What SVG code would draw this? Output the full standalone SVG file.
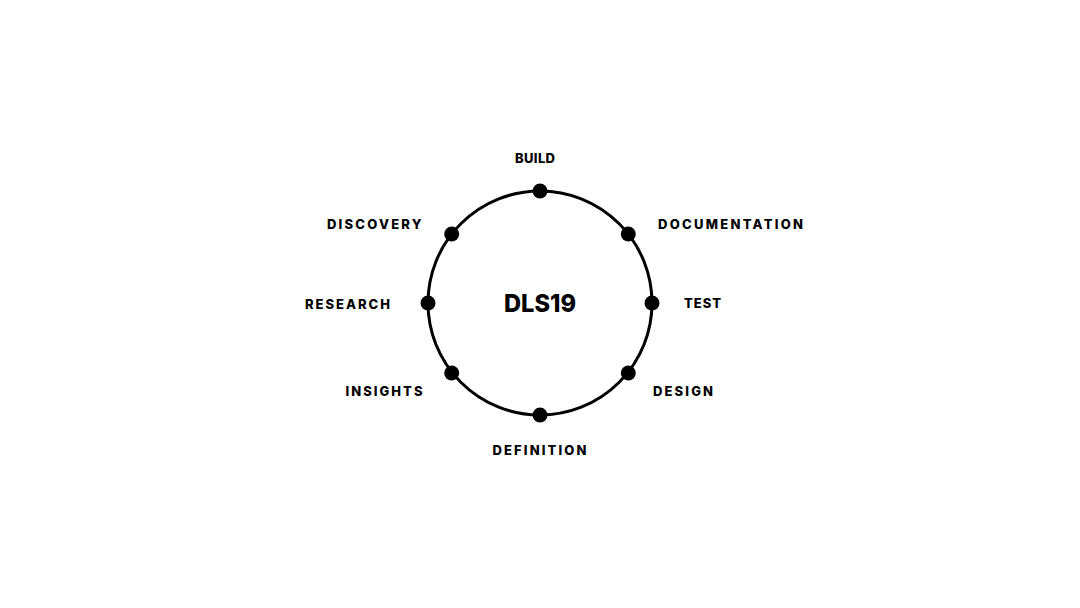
<svg xmlns="http://www.w3.org/2000/svg" width="1080" height="608" viewBox="0 0 1080 608">
<style>
.lbl{font-family:Inter,"Noto Sans","Liberation Sans",sans-serif;font-weight:800;font-size:13px;fill:#000}
.title{font-family:Inter,"Noto Sans","Liberation Sans",sans-serif;font-weight:800;font-size:25px;fill:#000}
.ring{fill:none;stroke:#000;stroke-width:3}
.dot{fill:#000}
</style>
<rect width="1080" height="608" fill="#fff"/>
<g id="connectors">
<circle class="ring" cx="540" cy="303" r="112"/>
</g>
<g id="center"><text class="title" x="504" y="312" textLength="72" lengthAdjust="spacingAndGlyphs">DLS19</text></g>
<g id="build"><circle class="dot" cx="540" cy="191" r="7.5"/><text class="lbl" x="515" y="162.5" textLength="40" lengthAdjust="spacing">BUILD</text></g>
<g id="documentation"><circle class="dot" cx="628.3" cy="234" r="7.5"/><text class="lbl" x="658" y="228.5" textLength="145" lengthAdjust="spacing">DOCUMENTATION</text></g>
<g id="test"><circle class="dot" cx="652" cy="303" r="7.5"/><text class="lbl" x="684" y="308" textLength="37" lengthAdjust="spacing">TEST</text></g>
<g id="design"><circle class="dot" cx="628.3" cy="373" r="7.5"/><text class="lbl" x="653" y="396" textLength="60" lengthAdjust="spacing">DESIGN</text></g>
<g id="definition"><circle class="dot" cx="540" cy="415" r="7.5"/><text class="lbl" x="492.5" y="455" textLength="94" lengthAdjust="spacing">DEFINITION</text></g>
<g id="insights"><circle class="dot" cx="451.7" cy="373" r="7.5"/><text class="lbl" x="345.5" y="396" textLength="77" lengthAdjust="spacing">INSIGHTS</text></g>
<g id="research"><circle class="dot" cx="428" cy="303" r="7.5"/><text class="lbl" x="305" y="308.5" textLength="85" lengthAdjust="spacing">RESEARCH</text></g>
<g id="discovery"><circle class="dot" cx="451.7" cy="234" r="7.5"/><text class="lbl" x="327" y="228.5" textLength="94.5" lengthAdjust="spacing">DISCOVERY</text></g>
</svg>
